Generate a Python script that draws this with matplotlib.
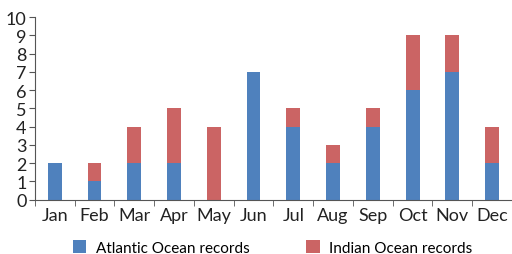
import matplotlib
matplotlib.use("Agg")
import matplotlib.pyplot as plt
import numpy as np

months = ["Jan", "Feb", "Mar", "Apr", "May", "Jun", "Jul", "Aug", "Sep", "Oct", "Nov", "Dec"]
atlantic = [2, 1, 2, 2, 0, 7, 4, 2, 4, 6, 7, 2]
indian = [0, 1, 2, 3, 4, 0, 1, 1, 1, 3, 2, 2]

plt.rcParams['font.family'] = ['Lato', 'DejaVu Sans']

fig = plt.figure(figsize=(5.12, 2.55), dpi=100)
ax = fig.add_axes([0.068, 0.213, 0.932, 0.716])

x = np.arange(len(months))
ax.bar(x, atlantic, width=0.35, color="#4F81BD", label="Atlantic Ocean records")
ax.bar(x, indian, width=0.35, bottom=atlantic, color="#CB6464", label="Indian Ocean records")

ax.set_xlim(-0.5, 11.5)
ax.set_ylim(0, 10)
ax.set_yticks(range(0, 11))
ax.set_xticks(x)
ax.set_xticklabels(months)
ax.set_xticks(np.arange(-0.5, 12, 1), minor=True)
ax.tick_params(axis="x", which="major", length=0, labelsize=13, pad=5, colors="#222222")
ax.tick_params(axis="x", which="minor", length=4, color="#555555")
ax.tick_params(axis="y", length=4, labelsize=13, pad=2, colors="#222222")
ax.tick_params(axis="y", color="#555555")

for s in ["top", "right"]:
    ax.spines[s].set_visible(False)
for s in ["left", "bottom"]:
    ax.spines[s].set_color("#555555")

fig.legend(loc="center", bbox_to_anchor=(0.532, 0.025), ncol=2, frameon=False,
           fontsize=11, columnspacing=3.7, handlelength=0.9, handleheight=0.9,
           handletextpad=0.6)

fig.savefig("out.png", dpi=100)
